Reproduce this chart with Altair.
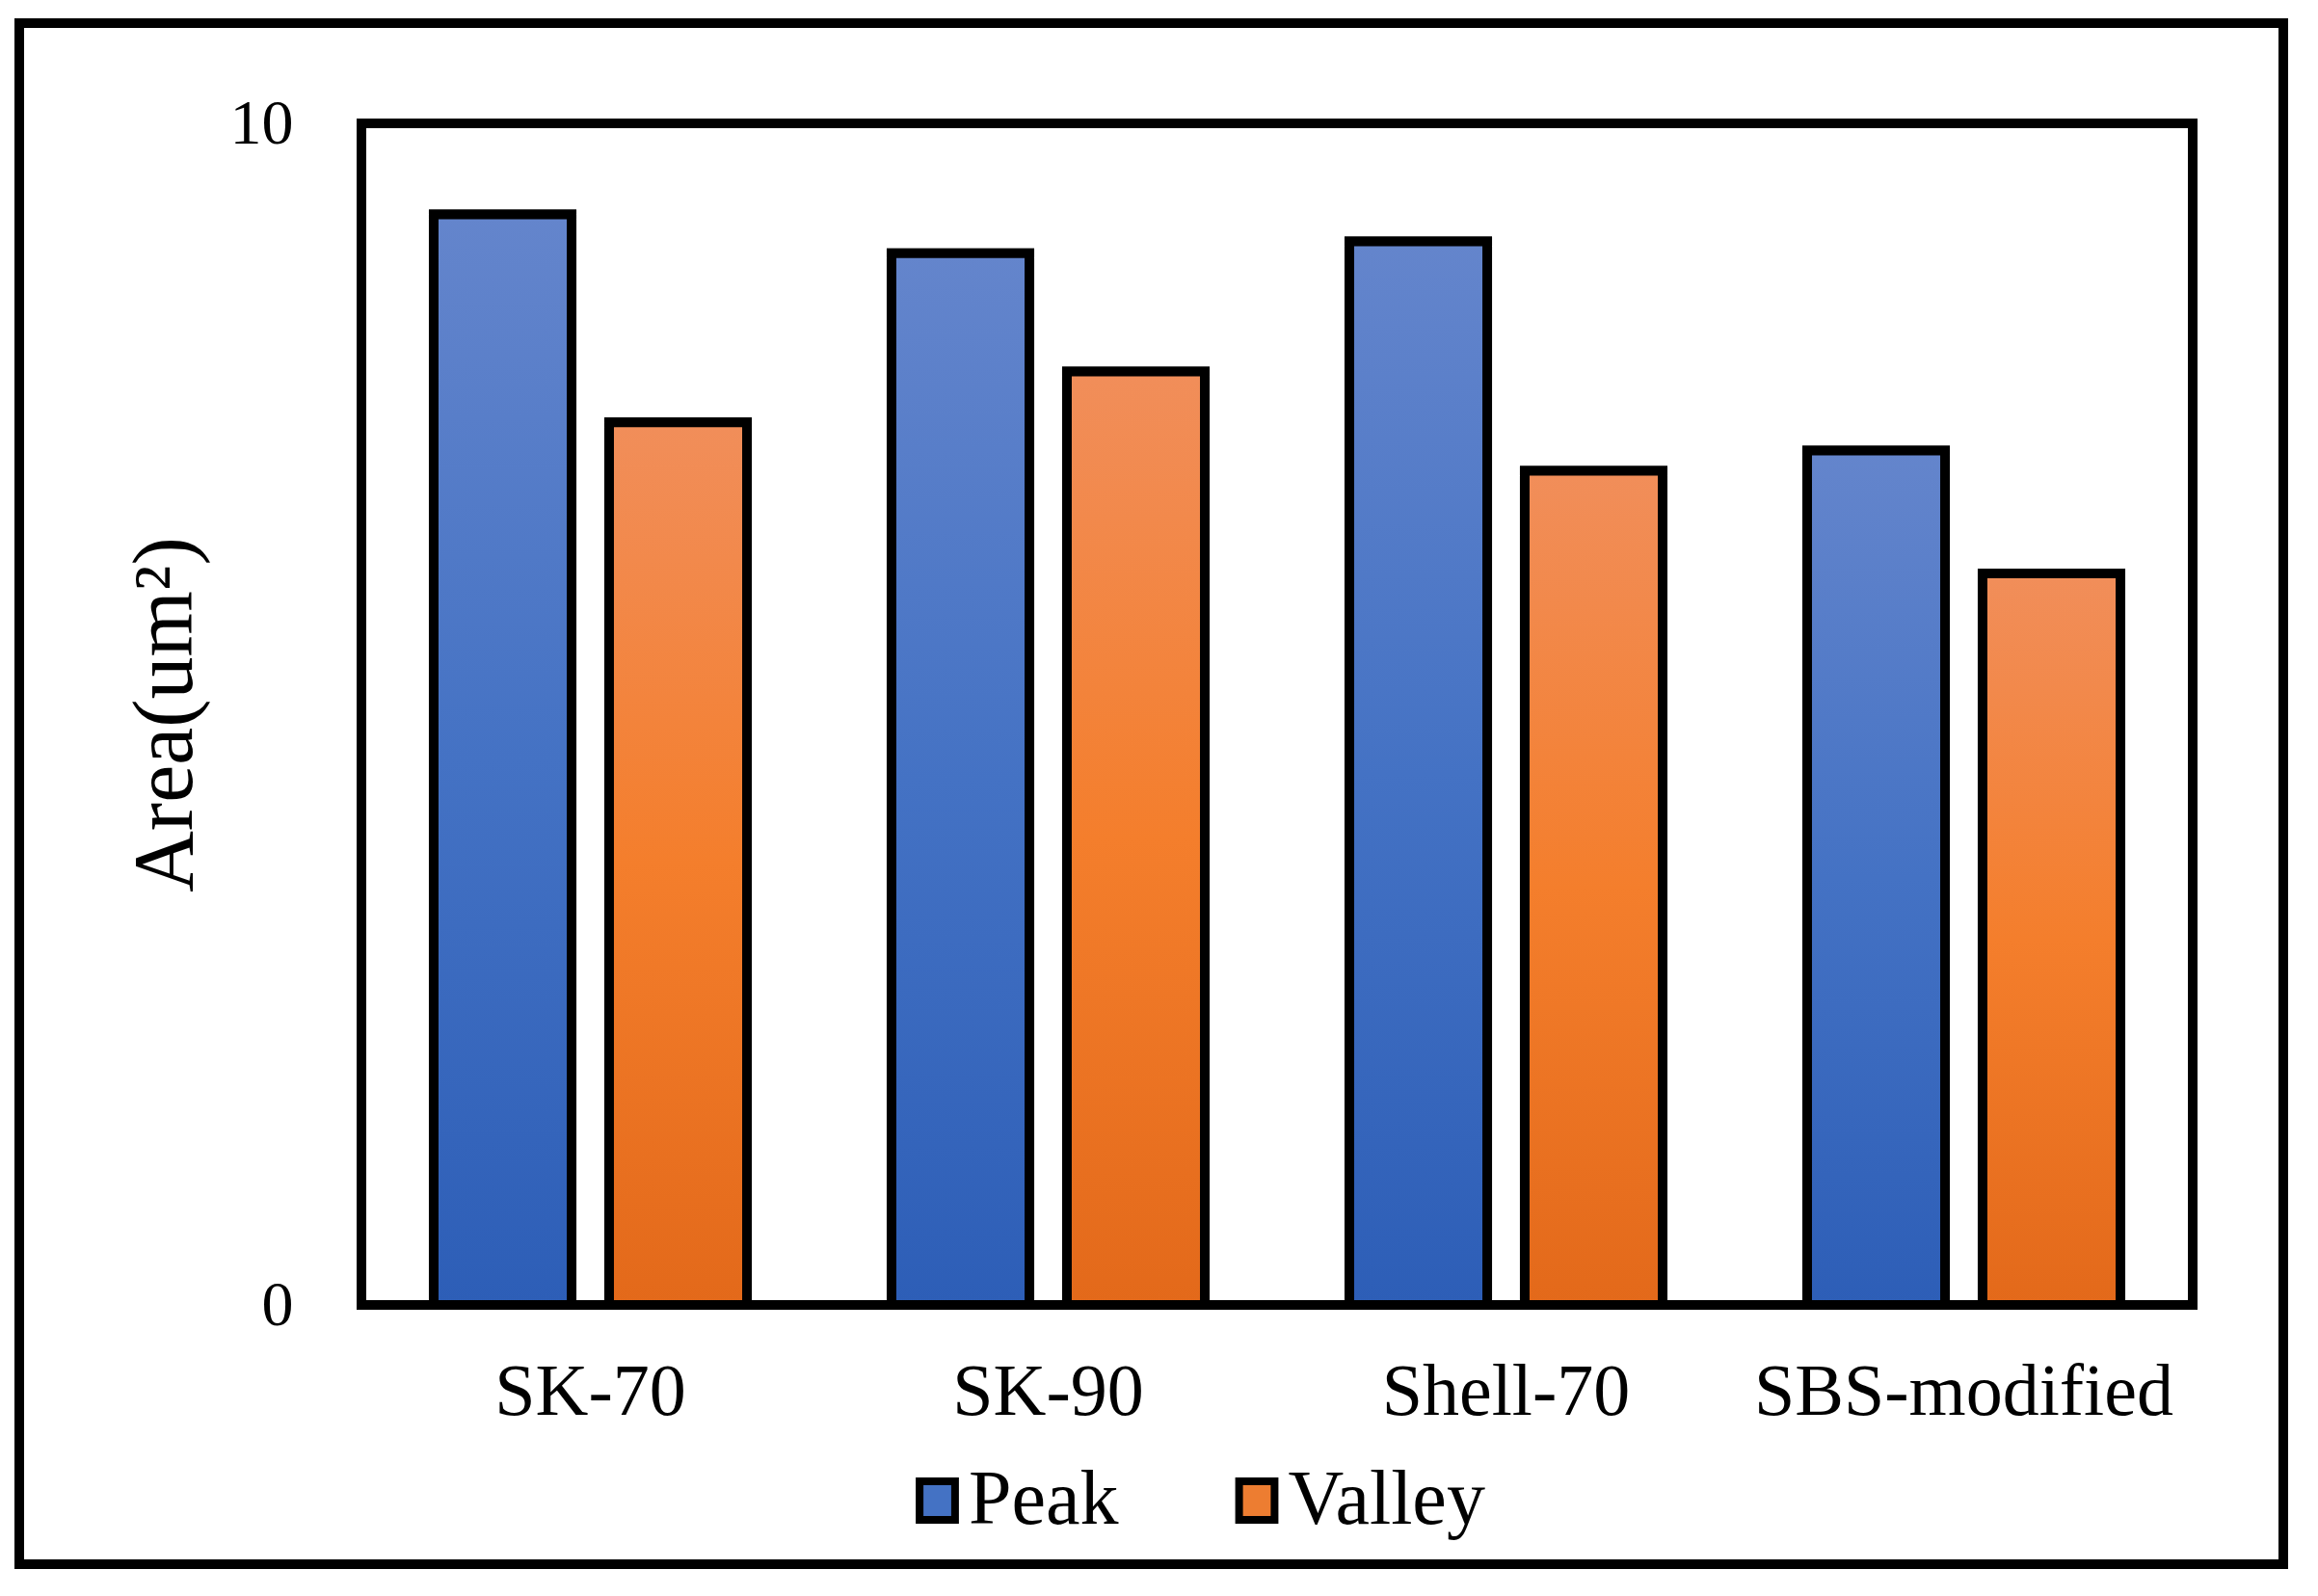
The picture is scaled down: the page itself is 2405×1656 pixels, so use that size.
import altair as alt
import pandas as pd

categories = ["SK-70", "SK-90", "Shell-70", "SBS-modified"]
series_names = ["Peak", "Valley"]
peak_values = [9.23, 8.90, 9.00, 7.23]
valley_values = [7.47, 7.90, 7.06, 6.19]
y_ticks = [0, 10]

rows = []
for c, p, v in zip(categories, peak_values, valley_values):
    rows.append({"category": c, "series": "Peak", "value": p})
    rows.append({"category": c, "series": "Valley", "value": v})
df = pd.DataFrame(rows)

FONT = "Liberation Serif"

grad_blue = alt.Gradient(
    gradient="linear",
    stops=[alt.GradientStop(color="#6485cc", offset=0),
           alt.GradientStop(color="#4472c4", offset=0.5),
           alt.GradientStop(color="#2d5eb7", offset=1)],
    x1=0, x2=0, y1=0, y2=1,
)
grad_orange = alt.Gradient(
    gradient="linear",
    stops=[alt.GradientStop(color="#f18e5a", offset=0),
           alt.GradientStop(color="#f47e2c", offset=0.5),
           alt.GradientStop(color="#e3691a", offset=1)],
    x1=0, x2=0, y1=0, y2=1,
)

x_enc = alt.X(
    "category:N",
    sort=categories,
    scale=alt.Scale(paddingInner=0, paddingOuter=0),
    axis=alt.Axis(
        title=None, labelAngle=0, labelFontSize=76, labelFont=FONT,
        labelColor="black", domain=False, ticks=False, tickSize=0,
        labelPadding=113, labelBaseline="alphabetic", labelLimit=1000,
    ),
)
xoff_enc = alt.XOffset(
    "series:N", sort=series_names,
    scale=alt.Scale(paddingInner=0.214, paddingOuter=0.412),
)
y_enc = alt.Y(
    "value:Q",
    scale=alt.Scale(domain=[0, 10], nice=False, zero=True),
    axis=alt.Axis(
        values=y_ticks, title="Area(um²)", titleFont=FONT, titleFontSize=88,
        titleFontWeight="normal", titleColor="black", titleAngle=270,
        titleX=-203, titleY=613, titleAlign="center", titleBaseline="middle",
        labelFont=FONT, labelFontSize=66, labelColor="black",
        labelPadding=71, labelBaseline="middle", labelFlush=False,
        domain=False, ticks=False, tickSize=0, grid=False,
    ),
)

legend_layer = alt.Chart(df).mark_bar(stroke="black", strokeWidth=10).encode(
    x=x_enc, xOffset=xoff_enc, y=y_enc,
    color=alt.Color(
        "series:N",
        scale=alt.Scale(domain=series_names, range=["#4472c4", "#ed7d31"]),
        legend=alt.Legend(
            title=None, orient="none", direction="horizontal",
            legendX=557.5, legendY=1389, padding=0,
            symbolType="M-0.92,-1L0.92,-1L0.92,1L-0.92,1Z",
            symbolSize=1600, symbolStrokeColor="black", symbolStrokeWidth=8,
            symbolOpacity=1,
            labelFont=FONT, labelFontSize=80, labelColor="black",
            labelOffset={"expr": "-7.5"}, columnPadding=102.5, labelLimit=1000,
        ),
    ),
)

gradient_layer = alt.Chart(df).mark_bar(stroke="black", strokeWidth=10).encode(
    x=x_enc, xOffset=xoff_enc, y=y_enc,
    fill=alt.condition(alt.datum.series == "Peak",
                       alt.value(grad_blue), alt.value(grad_orange)),
)

frame = alt.Chart(pd.DataFrame({"k": [0]})).mark_rect(
    fillOpacity=0, stroke="black", strokeWidth=10
).encode(
    x=alt.value(-355), x2=alt.value(1994), y=alt.value(-104), y2=alt.value(1495)
)

chart = alt.layer(legend_layer, gradient_layer, frame).properties(
    width=1900, height=1226,
    autosize=alt.AutoSizeParams(type="none"),
    padding={"left": 367, "top": 120, "right": 110, "bottom": 290},
    background="white",
).configure_view(stroke="black", strokeWidth=10)

chart.save("out.html", embed_options={"renderer": "svg", "actions": False})
